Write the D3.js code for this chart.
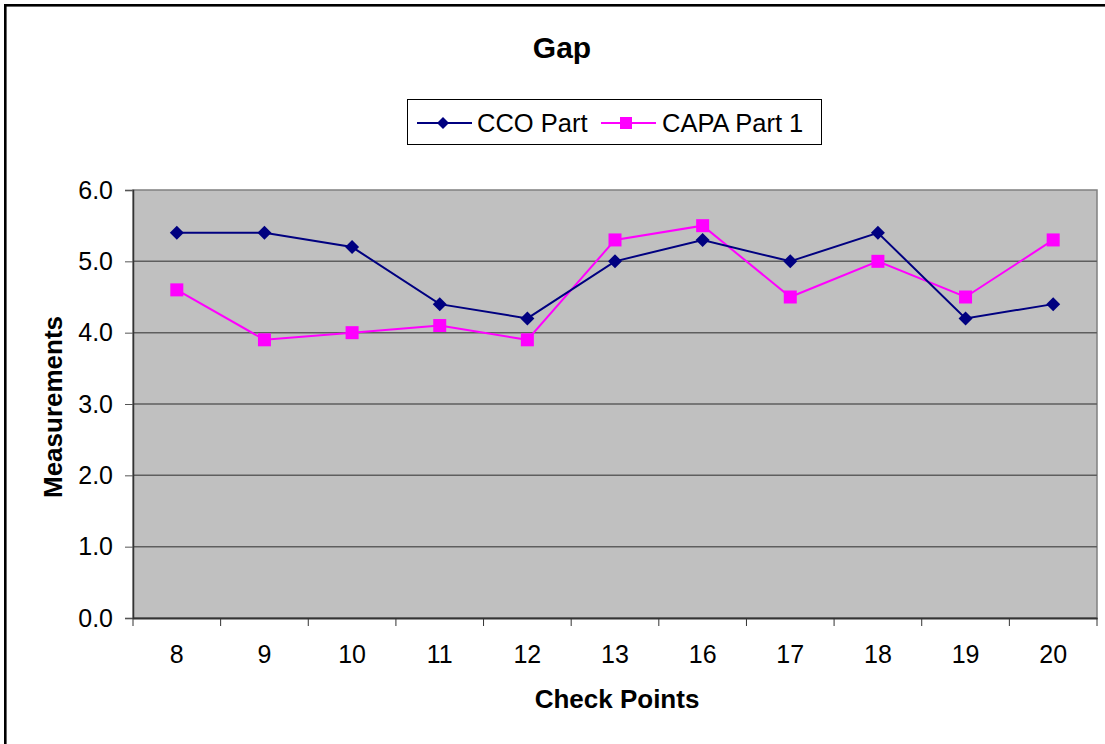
<!DOCTYPE html>
<html>
<head>
<meta charset="utf-8">
<script src="https://cdn.jsdelivr.net/npm/d3@7/dist/d3.min.js"></script>
<style>
  html, body { margin: 0; padding: 0; background: #fff; }
  svg { display: block; font-family: Arial, "Liberation Sans", sans-serif; }
</style>
</head>
<body>
<svg id="chart" width="1105" height="744"></svg>
<script>
const categories = ["8", "9", "10", "11", "12", "13", "16", "17", "18", "19", "20"];
const ccoPart = [5.4, 5.4, 5.2, 4.4, 4.2, 5.0, 5.3, 5.0, 5.4, 4.2, 4.4];
const capaPart1 = [4.6, 3.9, 4.0, 4.1, 3.9, 5.3, 5.5, 4.5, 5.0, 4.5, 5.3];
const yTicks = [0, 1, 2, 3, 4, 5, 6];
const seriesNames = ["CCO Part", "CAPA Part 1"];

const FONT = "Arial, 'Liberation Sans', sans-serif";
const svg = d3.select("#chart");
const W = 1105, H = 744;
const plot = { left: 133, right: 1097, top: 190, bottom: 618 };

svg.append("rect").attr("x", 0).attr("y", 0).attr("width", W).attr("height", H).attr("fill", "#fff");
// outer frame (extends past right/bottom edges)
svg.append("rect").attr("x", 5.3).attr("y", 5.3).attr("width", 1110).attr("height", 760)
  .attr("fill", "none").attr("stroke", "#000").attr("stroke-width", 2.6);

const x = d3.scaleBand().domain(categories).range([plot.left, plot.right]).paddingInner(0).paddingOuter(0);
const y = d3.scaleLinear().domain([0, 6]).range([plot.bottom, plot.top]);

// plot background
svg.append("rect").attr("x", plot.left).attr("y", plot.top)
  .attr("width", plot.right - plot.left).attr("height", plot.bottom - plot.top)
  .attr("fill", "#c0c0c0").attr("stroke", "#808080").attr("stroke-width", 1.5);

// gridlines
svg.append("g").selectAll("line").data(yTicks.filter(d => d > 0 && d < 6)).join("line")
  .attr("x1", plot.left).attr("x2", plot.right)
  .attr("y1", d => y(d)).attr("y2", d => y(d))
  .attr("stroke", "#5e5e5e").attr("stroke-width", 1.5);

// y axis
const yAxis = d3.axisLeft(y).tickValues(yTicks).tickFormat(d3.format(".1f")).tickSizeOuter(0).tickSize(8).tickPadding(12);
const gy = svg.append("g").attr("transform", `translate(${plot.left},0)`).call(yAxis);
gy.select(".domain").attr("stroke", "#333").attr("stroke-width", 1.5);
gy.selectAll(".tick line").attr("stroke", "#555");
gy.selectAll(".tick text").attr("font-size", 25).attr("fill", "#000").attr("font-family", FONT);

// x axis
const xAxis = d3.axisBottom(x).tickSize(0).tickSizeOuter(0).tickPadding(27);
const gx = svg.append("g").attr("transform", `translate(0,${plot.bottom})`).call(xAxis);
gx.select(".domain").attr("stroke", "#333").attr("stroke-width", 2.2);
gx.selectAll(".tick text").attr("font-size", 25).attr("fill", "#000").attr("font-family", FONT);
// category boundary ticks
const bounds = categories.map(c => x(c)).concat([plot.right]);
svg.append("g").selectAll("line").data(bounds).join("line")
  .attr("x1", d => d).attr("x2", d => d)
  .attr("y1", plot.bottom).attr("y2", plot.bottom + 8)
  .attr("stroke", "#333").attr("stroke-width", 1);

const cx = c => x(c) + x.bandwidth() / 2;

const line = d3.line().x(d => cx(d.c)).y(d => y(d.v));
const ccoData = categories.map((c, i) => ({ c, v: ccoPart[i] }));
const capaData = categories.map((c, i) => ({ c, v: capaPart1[i] }));

const navy = "#000080", magenta = "#ff00ff";
const diamond = s => `M0,${-s}L${s},0L0,${s}L${-s},0Z`;

svg.append("path").datum(capaData).attr("d", line).attr("fill", "none").attr("stroke", magenta).attr("stroke-width", 2);
svg.append("g").selectAll("rect").data(capaData).join("rect")
  .attr("x", d => cx(d.c) - 6.5).attr("y", d => y(d.v) - 6.5).attr("width", 13).attr("height", 13)
  .attr("fill", magenta);

svg.append("path").datum(ccoData).attr("d", line).attr("fill", "none").attr("stroke", navy).attr("stroke-width", 2);
svg.append("g").selectAll("path").data(ccoData).join("path")
  .attr("transform", d => `translate(${cx(d.c)},${y(d.v)})`)
  .attr("d", diamond(7)).attr("fill", navy);

// Title
svg.append("text").attr("x", 562).attr("y", 58).attr("text-anchor", "middle")
  .attr("font-size", 30).attr("font-weight", "bold").text("Gap");

// Axis titles
svg.append("text").attr("x", 617).attr("y", 708).attr("text-anchor", "middle")
  .attr("font-size", 26).attr("font-weight", "bold").text("Check Points");
svg.append("text").attr("transform", `translate(62,407) rotate(-90)`).attr("text-anchor", "middle")
  .attr("font-size", 26).attr("font-weight", "bold").text("Measurements");

// Legend
const lg = svg.append("g");
lg.append("rect").attr("x", 407.5).attr("y", 99.5).attr("width", 414).attr("height", 45)
  .attr("fill", "#fff").attr("stroke", "#000").attr("stroke-width", 1);
const legendItems = [
  { name: seriesNames[0], color: navy, x0: 417, tx: 477, shape: "diamond" },
  { name: seriesNames[1], color: magenta, x0: 601, tx: 662, shape: "square" }
];
legendItems.forEach(it => {
  const ly = 123;
  lg.append("line").attr("x1", it.x0).attr("x2", it.x0 + 55).attr("y1", ly).attr("y2", ly)
    .attr("stroke", it.color).attr("stroke-width", 2);
  if (it.shape === "diamond") {
    lg.append("path").attr("transform", `translate(${it.x0 + 26},${ly})`).attr("d", diamond(6)).attr("fill", it.color);
  } else {
    lg.append("rect").attr("x", it.x0 + 25 - 6).attr("y", ly - 6).attr("width", 12).attr("height", 12).attr("fill", it.color);
  }
  lg.append("text").attr("x", it.tx).attr("y", 132).attr("font-size", 25.5).text(it.name);
});
</script>
</body>
</html>
